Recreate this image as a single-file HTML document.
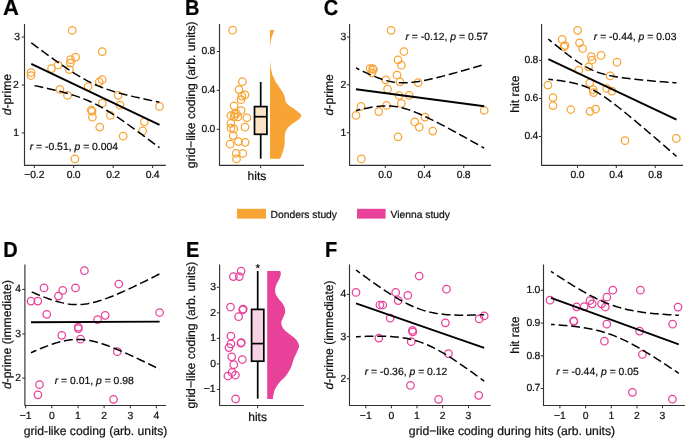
<!DOCTYPE html>
<html><head><meta charset="utf-8"><style>
html,body{margin:0;padding:0;background:#fff;width:685px;height:438px;overflow:hidden}
svg{display:block;font-family:"Liberation Sans", sans-serif;will-change:transform;text-rendering:geometricPrecision}
text{stroke:#111;stroke-width:0.22px}
</style></head><body>
<svg width="685" height="438" viewBox="0 0 685 438">
<rect width="685" height="438" fill="#fff"/>
<text x="3.0" y="14.7" font-size="20" text-anchor="start" font-weight="bold" font-style="normal" fill="#000" transform="translate(3.00 14.70) scale(1.1 1.12) translate(-3.00 -14.70)">A</text>
<path d="M24.5 24.0 V165.4 H165.8" fill="none" stroke="#333333" stroke-width="1.15" stroke-linejoin="round"/>
<line x1="21.8" y1="37.0" x2="24.5" y2="37.0" stroke="#333333" stroke-width="1.05"/>
<text x="20.1" y="39.9" font-size="10.4" text-anchor="end" font-weight="normal" font-style="normal" fill="#111">3</text>
<line x1="21.8" y1="85.0" x2="24.5" y2="85.0" stroke="#333333" stroke-width="1.05"/>
<text x="18.8" y="87.9" font-size="10.4" text-anchor="end" font-weight="normal" font-style="normal" fill="#111">2</text>
<line x1="21.8" y1="132.9" x2="24.5" y2="132.9" stroke="#333333" stroke-width="1.05"/>
<text x="19.1" y="135.8" font-size="10.4" text-anchor="end" font-weight="normal" font-style="normal" fill="#111">1</text>
<line x1="34.4" y1="165.4" x2="34.4" y2="168.1" stroke="#333333" stroke-width="1.05"/>
<text x="34.4" y="177.6" font-size="10.4" text-anchor="middle" font-weight="normal" font-style="normal" fill="#111">−0.2</text>
<line x1="73.7" y1="165.4" x2="73.7" y2="168.1" stroke="#333333" stroke-width="1.05"/>
<text x="73.7" y="177.6" font-size="10.4" text-anchor="middle" font-weight="normal" font-style="normal" fill="#111">0<tspan dx="-0.3">.</tspan><tspan dx="-0.3">0</tspan></text>
<line x1="113.2" y1="165.4" x2="113.2" y2="168.1" stroke="#333333" stroke-width="1.05"/>
<text x="113.2" y="177.6" font-size="10.4" text-anchor="middle" font-weight="normal" font-style="normal" fill="#111">0<tspan dx="-0.3">.</tspan><tspan dx="-0.3">2</tspan></text>
<line x1="152.6" y1="165.4" x2="152.6" y2="168.1" stroke="#333333" stroke-width="1.05"/>
<text x="152.6" y="177.6" font-size="10.4" text-anchor="middle" font-weight="normal" font-style="normal" fill="#111">0<tspan dx="-0.3">.</tspan><tspan dx="-0.3">4</tspan></text>
<circle cx="72.2" cy="30.4" r="3.75" fill="none" stroke="#F8A435" stroke-width="1.25"/>
<circle cx="102.2" cy="51.6" r="3.75" fill="none" stroke="#F8A435" stroke-width="1.25"/>
<circle cx="75.6" cy="57.1" r="3.75" fill="none" stroke="#F8A435" stroke-width="1.25"/>
<circle cx="70.6" cy="59.7" r="3.75" fill="none" stroke="#F8A435" stroke-width="1.25"/>
<circle cx="70.4" cy="63.0" r="3.75" fill="none" stroke="#F8A435" stroke-width="1.25"/>
<circle cx="69.4" cy="69.6" r="3.75" fill="none" stroke="#F8A435" stroke-width="1.25"/>
<circle cx="58.1" cy="65.0" r="3.75" fill="none" stroke="#F8A435" stroke-width="1.25"/>
<circle cx="51.5" cy="68.6" r="3.75" fill="none" stroke="#F8A435" stroke-width="1.25"/>
<circle cx="31.0" cy="72.5" r="3.75" fill="none" stroke="#F8A435" stroke-width="1.25"/>
<circle cx="31.0" cy="75.5" r="3.75" fill="none" stroke="#F8A435" stroke-width="1.25"/>
<circle cx="88.1" cy="86.6" r="3.75" fill="none" stroke="#F8A435" stroke-width="1.25"/>
<circle cx="99.3" cy="81.8" r="3.75" fill="none" stroke="#F8A435" stroke-width="1.25"/>
<circle cx="102.1" cy="79.7" r="3.75" fill="none" stroke="#F8A435" stroke-width="1.25"/>
<circle cx="59.9" cy="89.3" r="3.75" fill="none" stroke="#F8A435" stroke-width="1.25"/>
<circle cx="67.5" cy="95.4" r="3.75" fill="none" stroke="#F8A435" stroke-width="1.25"/>
<circle cx="118.1" cy="95.3" r="3.75" fill="none" stroke="#F8A435" stroke-width="1.25"/>
<circle cx="159.5" cy="106.4" r="3.75" fill="none" stroke="#F8A435" stroke-width="1.25"/>
<circle cx="102.3" cy="103.2" r="3.75" fill="none" stroke="#F8A435" stroke-width="1.25"/>
<circle cx="120.0" cy="105.2" r="3.75" fill="none" stroke="#F8A435" stroke-width="1.25"/>
<circle cx="91.3" cy="110.1" r="3.75" fill="none" stroke="#F8A435" stroke-width="1.25"/>
<circle cx="92.0" cy="111.4" r="3.75" fill="none" stroke="#F8A435" stroke-width="1.25"/>
<circle cx="92.4" cy="117.2" r="3.75" fill="none" stroke="#F8A435" stroke-width="1.25"/>
<circle cx="110.4" cy="115.4" r="3.75" fill="none" stroke="#F8A435" stroke-width="1.25"/>
<circle cx="99.7" cy="127.1" r="3.75" fill="none" stroke="#F8A435" stroke-width="1.25"/>
<circle cx="144.3" cy="121.8" r="3.75" fill="none" stroke="#F8A435" stroke-width="1.25"/>
<circle cx="142.7" cy="130.9" r="3.75" fill="none" stroke="#F8A435" stroke-width="1.25"/>
<circle cx="123.2" cy="136.2" r="3.75" fill="none" stroke="#F8A435" stroke-width="1.25"/>
<circle cx="74.9" cy="158.9" r="3.75" fill="none" stroke="#F8A435" stroke-width="1.25"/>
<line x1="31.3" y1="63.9" x2="159.5" y2="124.9" stroke="#000" stroke-width="1.9"/>
<polyline points="31.30,42.80 33.47,44.43 35.65,46.05 37.82,47.67 39.99,49.28 42.16,50.88 44.34,52.48 46.51,54.07 48.68,55.65 50.86,57.22 53.03,58.78 55.20,60.33 57.37,61.87 59.55,63.40 61.72,64.90 63.89,66.40 66.07,67.87 68.24,69.32 70.41,70.75 72.58,72.16 74.76,73.53 76.93,74.88 79.10,76.19 81.28,77.47 83.45,78.70 85.62,79.90 87.79,81.05 89.97,82.16 92.14,83.22 94.31,84.24 96.49,85.21 98.66,86.13 100.83,87.01 103.01,87.85 105.18,88.65 107.35,89.41 109.52,90.14 111.70,90.84 113.87,91.51 116.04,92.15 118.22,92.77 120.39,93.37 122.56,93.95 124.73,94.51 126.91,95.06 129.08,95.59 131.25,96.11 133.43,96.62 135.60,97.11 137.77,97.60 139.94,98.08 142.12,98.55 144.29,99.02 146.46,99.48 148.64,99.93 150.81,100.38 152.98,100.82 155.15,101.26 157.33,101.69 159.50,102.12" fill="none" stroke="#000" stroke-width="1.5" stroke-dasharray="8.9 3.8" stroke-dashoffset="0.11"/>
<polyline points="31.30,85.00 33.47,85.44 35.65,85.89 37.82,86.34 39.99,86.79 42.16,87.26 44.34,87.73 46.51,88.21 48.68,88.69 50.86,89.19 53.03,89.70 55.20,90.21 57.37,90.74 59.55,91.29 61.72,91.84 63.89,92.42 66.07,93.01 68.24,93.63 70.41,94.27 72.58,94.93 74.76,95.62 76.93,96.35 79.10,97.10 81.28,97.89 83.45,98.72 85.62,99.60 87.79,100.51 89.97,101.47 92.14,102.48 94.31,103.53 96.49,104.63 98.66,105.77 100.83,106.96 103.01,108.19 105.18,109.46 107.35,110.76 109.52,112.10 111.70,113.47 113.87,114.87 116.04,116.29 118.22,117.74 120.39,119.21 122.56,120.70 124.73,122.21 126.91,123.73 129.08,125.26 131.25,126.81 133.43,128.37 135.60,129.94 137.77,131.52 139.94,133.11 142.12,134.70 144.29,136.31 146.46,137.92 148.64,139.53 150.81,141.15 152.98,142.78 155.15,144.41 157.33,146.04 159.50,147.68" fill="none" stroke="#000" stroke-width="1.5" stroke-dasharray="8.9 3.8" stroke-dashoffset="9.44"/>
<text x="29.7" y="149.8" font-size="10.4" fill="#111"><tspan font-style="italic">r</tspan> = -0.51, <tspan font-style="italic">p</tspan> = 0.004</text>
<text x="0" y="0" font-size="12.2" fill="#111" text-anchor="middle" transform="translate(10.6 94.6) rotate(-90)"><tspan font-style="italic">d</tspan>-prime</text>
<text x="185.0" y="14.6" font-size="20" text-anchor="start" font-weight="bold" font-style="normal" fill="#000" transform="translate(185.00 14.60) scale(1 1.09) translate(-185.00 -14.60)">B</text>
<path d="M219.5 24.0 V165.4 H303.9" fill="none" stroke="#333333" stroke-width="1.15" stroke-linejoin="round"/>
<line x1="216.7" y1="51.5" x2="219.4" y2="51.5" stroke="#333333" stroke-width="1.05"/>
<text x="215.3" y="54.4" font-size="10.4" text-anchor="end" font-weight="normal" font-style="normal" fill="#111">0<tspan dx="-0.3">.</tspan><tspan dx="-0.3">8</tspan></text>
<line x1="216.7" y1="90.4" x2="219.4" y2="90.4" stroke="#333333" stroke-width="1.05"/>
<text x="215.3" y="93.3" font-size="10.4" text-anchor="end" font-weight="normal" font-style="normal" fill="#111">0<tspan dx="-0.3">.</tspan><tspan dx="-0.3">4</tspan></text>
<line x1="216.7" y1="129.3" x2="219.4" y2="129.3" stroke="#333333" stroke-width="1.05"/>
<text x="215.3" y="132.2" font-size="10.4" text-anchor="end" font-weight="normal" font-style="normal" fill="#111">0<tspan dx="-0.3">.</tspan><tspan dx="-0.3">0</tspan></text>
<line x1="260.6" y1="165.4" x2="260.6" y2="168.1" stroke="#333333" stroke-width="1.05"/>
<text x="256.9" y="179.6" font-size="12" text-anchor="middle" font-weight="normal" font-style="normal" fill="#111">hits</text>
<circle cx="232.6" cy="30.2" r="3.75" fill="none" stroke="#F8A435" stroke-width="1.25"/>
<circle cx="242.4" cy="81.7" r="3.75" fill="none" stroke="#F8A435" stroke-width="1.25"/>
<circle cx="239.0" cy="89.6" r="3.75" fill="none" stroke="#F8A435" stroke-width="1.25"/>
<circle cx="244.9" cy="94.9" r="3.75" fill="none" stroke="#F8A435" stroke-width="1.25"/>
<circle cx="241.8" cy="96.1" r="3.75" fill="none" stroke="#F8A435" stroke-width="1.25"/>
<circle cx="241.0" cy="99.7" r="3.75" fill="none" stroke="#F8A435" stroke-width="1.25"/>
<circle cx="234.1" cy="105.8" r="3.75" fill="none" stroke="#F8A435" stroke-width="1.25"/>
<circle cx="241.1" cy="110.5" r="3.75" fill="none" stroke="#F8A435" stroke-width="1.25"/>
<circle cx="230.9" cy="115.5" r="3.75" fill="none" stroke="#F8A435" stroke-width="1.25"/>
<circle cx="234.4" cy="114.0" r="3.75" fill="none" stroke="#F8A435" stroke-width="1.25"/>
<circle cx="236.5" cy="113.5" r="3.75" fill="none" stroke="#F8A435" stroke-width="1.25"/>
<circle cx="237.8" cy="116.9" r="3.75" fill="none" stroke="#F8A435" stroke-width="1.25"/>
<circle cx="234.3" cy="116.5" r="3.75" fill="none" stroke="#F8A435" stroke-width="1.25"/>
<circle cx="246.9" cy="117.8" r="3.75" fill="none" stroke="#F8A435" stroke-width="1.25"/>
<circle cx="230.9" cy="123.4" r="3.75" fill="none" stroke="#F8A435" stroke-width="1.25"/>
<circle cx="231.0" cy="128.2" r="3.75" fill="none" stroke="#F8A435" stroke-width="1.25"/>
<circle cx="233.8" cy="128.9" r="3.75" fill="none" stroke="#F8A435" stroke-width="1.25"/>
<circle cx="245.0" cy="127.2" r="3.75" fill="none" stroke="#F8A435" stroke-width="1.25"/>
<circle cx="233.2" cy="135.6" r="3.75" fill="none" stroke="#F8A435" stroke-width="1.25"/>
<circle cx="230.1" cy="144.2" r="3.75" fill="none" stroke="#F8A435" stroke-width="1.25"/>
<circle cx="238.5" cy="141.6" r="3.75" fill="none" stroke="#F8A435" stroke-width="1.25"/>
<circle cx="245.2" cy="142.3" r="3.75" fill="none" stroke="#F8A435" stroke-width="1.25"/>
<circle cx="236.2" cy="153.4" r="3.75" fill="none" stroke="#F8A435" stroke-width="1.25"/>
<circle cx="242.8" cy="153.4" r="3.75" fill="none" stroke="#F8A435" stroke-width="1.25"/>
<circle cx="236.5" cy="158.9" r="3.75" fill="none" stroke="#F8A435" stroke-width="1.25"/>
<line x1="260.7" y1="82.0" x2="260.7" y2="106.6" stroke="#000" stroke-width="1.7"/>
<line x1="260.7" y1="134.3" x2="260.7" y2="158.7" stroke="#000" stroke-width="1.7"/>
<rect x="254.5" y="106.6" width="12.4" height="27.7" fill="#FDE3C5" stroke="#000" stroke-width="1.7"/>
<line x1="254.5" y1="116.7" x2="266.9" y2="116.7" stroke="#000" stroke-width="1.7"/>
<path d="M270.00 30.10 L274.30 30.10 C274.03 30.85 273.20 33.17 272.70 34.60 C272.20 36.03 271.67 37.33 271.30 38.70 C270.93 40.07 270.70 41.42 270.50 42.80 C270.30 44.18 270.18 45.40 270.10 47.00 C270.02 48.60 270.00 50.23 270.00 52.40 C270.00 54.57 270.02 57.72 270.10 60.00 C270.18 62.28 270.25 64.17 270.50 66.10 C270.75 68.03 271.28 70.12 271.60 71.60 C271.92 73.08 272.07 74.08 272.40 75.00 C272.73 75.92 273.10 76.07 273.60 77.10 C274.10 78.13 274.43 79.50 275.40 81.20 C276.37 82.90 278.08 85.25 279.40 87.30 C280.72 89.35 282.38 91.78 283.30 93.50 C284.22 95.22 284.50 96.23 284.90 97.60 C285.30 98.97 284.95 100.33 285.70 101.70 C286.45 103.07 287.75 104.43 289.40 105.80 C291.05 107.17 293.73 108.53 295.60 109.90 C297.47 111.27 299.65 112.97 300.60 114.00 C301.55 115.03 301.58 115.23 301.30 116.10 C301.02 116.97 300.50 117.83 298.90 119.20 C297.30 120.57 293.73 122.60 291.70 124.30 C289.67 126.00 287.83 127.68 286.70 129.40 C285.57 131.12 285.22 132.72 284.90 134.60 C284.58 136.48 284.93 138.65 284.80 140.70 C284.67 142.75 284.50 144.83 284.10 146.90 C283.70 148.97 282.95 151.38 282.40 153.10 C281.85 154.82 281.20 156.25 280.80 157.20 C280.40 158.15 280.13 158.53 280.00 158.80 L270.00 158.80 Z" fill="#F8A435" stroke="none"/>
<text x="0" y="0" font-size="12.2" fill="#111" text-anchor="middle" transform="translate(194.8 94.8) rotate(-90)">grid−like coding (arb. units)</text>
<rect x="237.0" y="208.8" width="29" height="9.8" fill="#F8A435"/>
<text x="270.6" y="218.0" font-size="10.3" text-anchor="start" font-weight="normal" font-style="normal" fill="#111">Donders study</text>
<rect x="357.0" y="208.8" width="28.6" height="9.8" fill="#E8419A"/>
<text x="390.6" y="218.0" font-size="10.3" text-anchor="start" font-weight="normal" font-style="normal" fill="#111">Vienna study</text>
<text x="323.8" y="14.6" font-size="20" text-anchor="start" font-weight="bold" font-style="normal" fill="#000" transform="translate(323.80 14.60) scale(1 1.09) translate(-323.80 -14.60)">C</text>
<path d="M349.6 24.0 V165.4 H491.0" fill="none" stroke="#333333" stroke-width="1.15" stroke-linejoin="round"/>
<line x1="346.9" y1="37.0" x2="349.6" y2="37.0" stroke="#333333" stroke-width="1.05"/>
<text x="346.2" y="39.9" font-size="10.4" text-anchor="end" font-weight="normal" font-style="normal" fill="#111">3</text>
<line x1="346.9" y1="84.8" x2="349.6" y2="84.8" stroke="#333333" stroke-width="1.05"/>
<text x="346.2" y="87.8" font-size="10.4" text-anchor="end" font-weight="normal" font-style="normal" fill="#111">2</text>
<line x1="346.9" y1="132.7" x2="349.6" y2="132.7" stroke="#333333" stroke-width="1.05"/>
<text x="346.2" y="135.6" font-size="10.4" text-anchor="end" font-weight="normal" font-style="normal" fill="#111">1</text>
<line x1="385.3" y1="165.4" x2="385.3" y2="168.1" stroke="#333333" stroke-width="1.05"/>
<text x="385.3" y="177.6" font-size="10.4" text-anchor="middle" font-weight="normal" font-style="normal" fill="#111">0<tspan dx="-0.3">.</tspan><tspan dx="-0.3">0</tspan></text>
<line x1="424.4" y1="165.4" x2="424.4" y2="168.1" stroke="#333333" stroke-width="1.05"/>
<text x="424.4" y="177.6" font-size="10.4" text-anchor="middle" font-weight="normal" font-style="normal" fill="#111">0<tspan dx="-0.3">.</tspan><tspan dx="-0.3">4</tspan></text>
<line x1="463.7" y1="165.4" x2="463.7" y2="168.1" stroke="#333333" stroke-width="1.05"/>
<text x="463.7" y="177.6" font-size="10.4" text-anchor="middle" font-weight="normal" font-style="normal" fill="#111">0<tspan dx="-0.3">.</tspan><tspan dx="-0.3">8</tspan></text>
<circle cx="391.1" cy="30.3" r="3.75" fill="none" stroke="#F8A435" stroke-width="1.25"/>
<circle cx="403.9" cy="51.5" r="3.75" fill="none" stroke="#F8A435" stroke-width="1.25"/>
<circle cx="398.0" cy="59.8" r="3.75" fill="none" stroke="#F8A435" stroke-width="1.25"/>
<circle cx="401.4" cy="65.2" r="3.75" fill="none" stroke="#F8A435" stroke-width="1.25"/>
<circle cx="370.1" cy="68.5" r="3.75" fill="none" stroke="#F8A435" stroke-width="1.25"/>
<circle cx="372.6" cy="68.7" r="3.75" fill="none" stroke="#F8A435" stroke-width="1.25"/>
<circle cx="373.4" cy="69.5" r="3.75" fill="none" stroke="#F8A435" stroke-width="1.25"/>
<circle cx="371.9" cy="73.0" r="3.75" fill="none" stroke="#F8A435" stroke-width="1.25"/>
<circle cx="385.7" cy="79.8" r="3.75" fill="none" stroke="#F8A435" stroke-width="1.25"/>
<circle cx="397.0" cy="75.0" r="3.75" fill="none" stroke="#F8A435" stroke-width="1.25"/>
<circle cx="400.0" cy="81.8" r="3.75" fill="none" stroke="#F8A435" stroke-width="1.25"/>
<circle cx="418.1" cy="82.6" r="3.75" fill="none" stroke="#F8A435" stroke-width="1.25"/>
<circle cx="387.6" cy="89.2" r="3.75" fill="none" stroke="#F8A435" stroke-width="1.25"/>
<circle cx="399.1" cy="95.5" r="3.75" fill="none" stroke="#F8A435" stroke-width="1.25"/>
<circle cx="409.2" cy="95.4" r="3.75" fill="none" stroke="#F8A435" stroke-width="1.25"/>
<circle cx="361.0" cy="106.4" r="3.75" fill="none" stroke="#F8A435" stroke-width="1.25"/>
<circle cx="386.6" cy="105.4" r="3.75" fill="none" stroke="#F8A435" stroke-width="1.25"/>
<circle cx="401.3" cy="103.4" r="3.75" fill="none" stroke="#F8A435" stroke-width="1.25"/>
<circle cx="378.7" cy="111.6" r="3.75" fill="none" stroke="#F8A435" stroke-width="1.25"/>
<circle cx="356.0" cy="115.4" r="3.75" fill="none" stroke="#F8A435" stroke-width="1.25"/>
<circle cx="425.0" cy="117.1" r="3.75" fill="none" stroke="#F8A435" stroke-width="1.25"/>
<circle cx="414.7" cy="121.9" r="3.75" fill="none" stroke="#F8A435" stroke-width="1.25"/>
<circle cx="419.3" cy="127.2" r="3.75" fill="none" stroke="#F8A435" stroke-width="1.25"/>
<circle cx="432.8" cy="131.1" r="3.75" fill="none" stroke="#F8A435" stroke-width="1.25"/>
<circle cx="398.0" cy="136.8" r="3.75" fill="none" stroke="#F8A435" stroke-width="1.25"/>
<circle cx="361.3" cy="158.9" r="3.75" fill="none" stroke="#F8A435" stroke-width="1.25"/>
<circle cx="484.2" cy="110.4" r="3.75" fill="none" stroke="#F8A435" stroke-width="1.25"/>
<line x1="356.0" y1="89.2" x2="484.2" y2="106.3" stroke="#000" stroke-width="1.9"/>
<polyline points="356.00,67.92 358.17,69.00 360.35,70.07 362.52,71.12 364.69,72.15 366.86,73.16 369.04,74.14 371.21,75.10 373.38,76.01 375.56,76.90 377.73,77.74 379.90,78.53 382.07,79.27 384.25,79.95 386.42,80.57 388.59,81.13 390.77,81.61 392.94,82.01 395.11,82.34 397.28,82.58 399.46,82.75 401.63,82.85 403.80,82.87 405.98,82.82 408.15,82.72 410.32,82.55 412.49,82.33 414.67,82.07 416.84,81.76 419.01,81.42 421.19,81.05 423.36,80.64 425.53,80.21 427.71,79.76 429.88,79.29 432.05,78.80 434.22,78.29 436.40,77.77 438.57,77.23 440.74,76.69 442.92,76.13 445.09,75.57 447.26,74.99 449.43,74.41 451.61,73.82 453.78,73.23 455.95,72.63 458.13,72.03 460.30,71.42 462.47,70.80 464.64,70.18 466.82,69.56 468.99,68.94 471.16,68.31 473.34,67.68 475.51,67.04 477.68,66.41 479.85,65.77 482.03,65.12 484.20,64.48" fill="none" stroke="#000" stroke-width="1.5" stroke-dasharray="8.9 3.8" stroke-dashoffset="5.22"/>
<polyline points="356.00,110.48 358.17,109.98 360.35,109.49 362.52,109.02 364.69,108.56 366.86,108.14 369.04,107.73 371.21,107.36 373.38,107.02 375.56,106.72 377.73,106.46 379.90,106.25 382.07,106.09 384.25,105.98 386.42,105.94 388.59,105.97 390.77,106.07 392.94,106.24 395.11,106.50 397.28,106.83 399.46,107.24 401.63,107.73 403.80,108.28 405.98,108.91 408.15,109.60 410.32,110.34 412.49,111.14 414.67,111.98 416.84,112.87 419.01,113.79 421.19,114.74 423.36,115.73 425.53,116.74 427.71,117.77 429.88,118.82 432.05,119.89 434.22,120.98 436.40,122.08 438.57,123.19 440.74,124.32 442.92,125.45 445.09,126.60 447.26,127.75 449.43,128.91 451.61,130.08 453.78,131.25 455.95,132.43 458.13,133.62 460.30,134.81 462.47,136.00 464.64,137.20 466.82,138.40 468.99,139.61 471.16,140.81 473.34,142.03 475.51,143.24 477.68,144.46 479.85,145.67 482.03,146.90 484.20,148.12" fill="none" stroke="#000" stroke-width="1.5" stroke-dasharray="8.9 3.8" stroke-dashoffset="4.6"/>
<text x="405.5" y="40.3" font-size="10.4" fill="#111"><tspan font-style="italic">r</tspan> = -0.12, <tspan font-style="italic">p</tspan> = 0.57</text>
<text x="0" y="0" font-size="12.2" fill="#111" text-anchor="middle" transform="translate(333.1 94.8) rotate(-90)"><tspan font-style="italic">d</tspan>-prime</text>
<path d="M541.6 24.0 V165.4 H683.0" fill="none" stroke="#333333" stroke-width="1.15" stroke-linejoin="round"/>
<line x1="538.9" y1="60.4" x2="541.6" y2="60.4" stroke="#333333" stroke-width="1.05"/>
<text x="538.3" y="63.3" font-size="10.4" text-anchor="end" font-weight="normal" font-style="normal" fill="#111">0<tspan dx="-0.3">.</tspan><tspan dx="-0.3">8</tspan></text>
<line x1="538.9" y1="98.5" x2="541.6" y2="98.5" stroke="#333333" stroke-width="1.05"/>
<text x="538.3" y="101.4" font-size="10.4" text-anchor="end" font-weight="normal" font-style="normal" fill="#111">0<tspan dx="-0.3">.</tspan><tspan dx="-0.3">6</tspan></text>
<line x1="538.9" y1="136.5" x2="541.6" y2="136.5" stroke="#333333" stroke-width="1.05"/>
<text x="538.3" y="139.4" font-size="10.4" text-anchor="end" font-weight="normal" font-style="normal" fill="#111">0<tspan dx="-0.3">.</tspan><tspan dx="-0.3">4</tspan></text>
<line x1="577.5" y1="165.4" x2="577.5" y2="168.1" stroke="#333333" stroke-width="1.05"/>
<text x="577.5" y="177.6" font-size="10.4" text-anchor="middle" font-weight="normal" font-style="normal" fill="#111">0<tspan dx="-0.3">.</tspan><tspan dx="-0.3">0</tspan></text>
<line x1="616.3" y1="165.4" x2="616.3" y2="168.1" stroke="#333333" stroke-width="1.05"/>
<text x="616.3" y="177.6" font-size="10.4" text-anchor="middle" font-weight="normal" font-style="normal" fill="#111">0<tspan dx="-0.3">.</tspan><tspan dx="-0.3">4</tspan></text>
<line x1="655.3" y1="165.4" x2="655.3" y2="168.1" stroke="#333333" stroke-width="1.05"/>
<text x="655.3" y="177.6" font-size="10.4" text-anchor="middle" font-weight="normal" font-style="normal" fill="#111">0<tspan dx="-0.3">.</tspan><tspan dx="-0.3">8</tspan></text>
<circle cx="577.6" cy="30.3" r="3.75" fill="none" stroke="#F8A435" stroke-width="1.25"/>
<circle cx="562.1" cy="39.4" r="3.75" fill="none" stroke="#F8A435" stroke-width="1.25"/>
<circle cx="565.1" cy="45.6" r="3.75" fill="none" stroke="#F8A435" stroke-width="1.25"/>
<circle cx="563.9" cy="46.9" r="3.75" fill="none" stroke="#F8A435" stroke-width="1.25"/>
<circle cx="579.5" cy="42.8" r="3.75" fill="none" stroke="#F8A435" stroke-width="1.25"/>
<circle cx="582.6" cy="48.5" r="3.75" fill="none" stroke="#F8A435" stroke-width="1.25"/>
<circle cx="591.3" cy="56.5" r="3.75" fill="none" stroke="#F8A435" stroke-width="1.25"/>
<circle cx="592.0" cy="60.0" r="3.75" fill="none" stroke="#F8A435" stroke-width="1.25"/>
<circle cx="601.0" cy="55.4" r="3.75" fill="none" stroke="#F8A435" stroke-width="1.25"/>
<circle cx="617.0" cy="62.2" r="3.75" fill="none" stroke="#F8A435" stroke-width="1.25"/>
<circle cx="588.6" cy="66.8" r="3.75" fill="none" stroke="#F8A435" stroke-width="1.25"/>
<circle cx="578.8" cy="70.2" r="3.75" fill="none" stroke="#F8A435" stroke-width="1.25"/>
<circle cx="547.9" cy="85.1" r="3.75" fill="none" stroke="#F8A435" stroke-width="1.25"/>
<circle cx="589.7" cy="82.8" r="3.75" fill="none" stroke="#F8A435" stroke-width="1.25"/>
<circle cx="593.2" cy="89.6" r="3.75" fill="none" stroke="#F8A435" stroke-width="1.25"/>
<circle cx="593.6" cy="92.6" r="3.75" fill="none" stroke="#F8A435" stroke-width="1.25"/>
<circle cx="610.1" cy="75.9" r="3.75" fill="none" stroke="#F8A435" stroke-width="1.25"/>
<circle cx="606.7" cy="88.5" r="3.75" fill="none" stroke="#F8A435" stroke-width="1.25"/>
<circle cx="611.9" cy="91.2" r="3.75" fill="none" stroke="#F8A435" stroke-width="1.25"/>
<circle cx="553.0" cy="97.6" r="3.75" fill="none" stroke="#F8A435" stroke-width="1.25"/>
<circle cx="553.0" cy="105.6" r="3.75" fill="none" stroke="#F8A435" stroke-width="1.25"/>
<circle cx="570.8" cy="109.5" r="3.75" fill="none" stroke="#F8A435" stroke-width="1.25"/>
<circle cx="590.0" cy="111.3" r="3.75" fill="none" stroke="#F8A435" stroke-width="1.25"/>
<circle cx="595.6" cy="109.0" r="3.75" fill="none" stroke="#F8A435" stroke-width="1.25"/>
<circle cx="625.0" cy="140.7" r="3.75" fill="none" stroke="#F8A435" stroke-width="1.25"/>
<circle cx="676.3" cy="138.4" r="3.75" fill="none" stroke="#F8A435" stroke-width="1.25"/>
<line x1="548.3" y1="59.1" x2="676.5" y2="119.6" stroke="#000" stroke-width="1.9"/>
<polyline points="548.30,39.03 550.47,40.84 552.65,42.63 554.82,44.41 556.99,46.18 559.16,47.93 561.34,49.66 563.51,51.38 565.68,53.07 567.86,54.73 570.03,56.37 572.20,57.97 574.37,59.52 576.55,61.04 578.72,62.50 580.89,63.90 583.07,65.23 585.24,66.50 587.41,67.69 589.58,68.80 591.76,69.83 593.93,70.77 596.10,71.64 598.28,72.43 600.45,73.14 602.62,73.80 604.79,74.39 606.97,74.93 609.14,75.43 611.31,75.88 613.49,76.30 615.66,76.69 617.83,77.05 620.01,77.39 622.18,77.71 624.35,78.01 626.52,78.29 628.70,78.56 630.87,78.82 633.04,79.07 635.22,79.30 637.39,79.53 639.56,79.75 641.73,79.97 643.91,80.18 646.08,80.38 648.25,80.58 650.43,80.77 652.60,80.96 654.77,81.14 656.94,81.32 659.12,81.50 661.29,81.68 663.46,81.85 665.64,82.02 667.81,82.19 669.98,82.36 672.15,82.52 674.33,82.68 676.50,82.85" fill="none" stroke="#000" stroke-width="1.5" stroke-dasharray="8.9 3.8" stroke-dashoffset="4.41"/>
<polyline points="548.30,79.17 550.47,79.42 552.65,79.67 554.82,79.94 556.99,80.23 559.16,80.52 561.34,80.84 563.51,81.18 565.68,81.54 567.86,81.92 570.03,82.34 572.20,82.79 574.37,83.29 576.55,83.83 578.72,84.42 580.89,85.07 583.07,85.78 585.24,86.57 587.41,87.43 589.58,88.37 591.76,89.39 593.93,90.50 596.10,91.68 598.28,92.94 600.45,94.28 602.62,95.67 604.79,97.13 606.97,98.64 609.14,100.19 611.31,101.79 613.49,103.42 615.66,105.09 617.83,106.77 620.01,108.49 622.18,110.22 624.35,111.97 626.52,113.74 628.70,115.52 630.87,117.31 633.04,119.12 635.22,120.93 637.39,122.75 639.56,124.58 641.73,126.42 643.91,128.26 646.08,130.11 648.25,131.96 650.43,133.82 652.60,135.68 654.77,137.55 656.94,139.42 659.12,141.29 661.29,143.16 663.46,145.04 665.64,146.92 667.81,148.81 669.98,150.69 672.15,152.58 674.33,154.46 676.50,156.35" fill="none" stroke="#000" stroke-width="1.5" stroke-dasharray="8.9 3.8" stroke-dashoffset="4.21"/>
<text x="593.8" y="40.4" font-size="10.4" fill="#111"><tspan font-style="italic">r</tspan> = -0.44, <tspan font-style="italic">p</tspan> = 0.03</text>
<text x="0" y="0" font-size="12.2" fill="#111" text-anchor="middle" transform="translate(518.6 94.2) rotate(-90)">hit rate</text>
<text x="3.2" y="256.6" font-size="20" text-anchor="start" font-weight="bold" font-style="normal" fill="#000" transform="translate(3.20 256.60) scale(1 1.09) translate(-3.20 -256.60)">D</text>
<path d="M24.9 264.4 V405.5 H166.1" fill="none" stroke="#333333" stroke-width="1.15" stroke-linejoin="round"/>
<line x1="22.2" y1="289.4" x2="24.9" y2="289.4" stroke="#333333" stroke-width="1.05"/>
<text x="21.1" y="292.3" font-size="10.4" text-anchor="end" font-weight="normal" font-style="normal" fill="#111">4</text>
<line x1="22.2" y1="334.0" x2="24.9" y2="334.0" stroke="#333333" stroke-width="1.05"/>
<text x="21.1" y="336.9" font-size="10.4" text-anchor="end" font-weight="normal" font-style="normal" fill="#111">3</text>
<line x1="22.2" y1="378.1" x2="24.9" y2="378.1" stroke="#333333" stroke-width="1.05"/>
<text x="21.1" y="381.0" font-size="10.4" text-anchor="end" font-weight="normal" font-style="normal" fill="#111">2</text>
<line x1="25.6" y1="405.5" x2="25.6" y2="408.2" stroke="#333333" stroke-width="1.05"/>
<text x="25.6" y="419.0" font-size="10.4" text-anchor="middle" font-weight="normal" font-style="normal" fill="#111">−1</text>
<line x1="51.8" y1="405.5" x2="51.8" y2="408.2" stroke="#333333" stroke-width="1.05"/>
<text x="51.8" y="419.0" font-size="10.4" text-anchor="middle" font-weight="normal" font-style="normal" fill="#111">0</text>
<line x1="78.0" y1="405.5" x2="78.0" y2="408.2" stroke="#333333" stroke-width="1.05"/>
<text x="78.0" y="419.0" font-size="10.4" text-anchor="middle" font-weight="normal" font-style="normal" fill="#111">1</text>
<line x1="104.1" y1="405.5" x2="104.1" y2="408.2" stroke="#333333" stroke-width="1.05"/>
<text x="104.1" y="419.0" font-size="10.4" text-anchor="middle" font-weight="normal" font-style="normal" fill="#111">2</text>
<line x1="130.3" y1="405.5" x2="130.3" y2="408.2" stroke="#333333" stroke-width="1.05"/>
<text x="130.3" y="419.0" font-size="10.4" text-anchor="middle" font-weight="normal" font-style="normal" fill="#111">3</text>
<line x1="156.4" y1="405.5" x2="156.4" y2="408.2" stroke="#333333" stroke-width="1.05"/>
<text x="156.4" y="419.0" font-size="10.4" text-anchor="middle" font-weight="normal" font-style="normal" fill="#111">4</text>
<circle cx="84.4" cy="270.7" r="3.75" fill="none" stroke="#E8419A" stroke-width="1.25"/>
<circle cx="44.0" cy="287.9" r="3.75" fill="none" stroke="#E8419A" stroke-width="1.25"/>
<circle cx="62.7" cy="290.4" r="3.75" fill="none" stroke="#E8419A" stroke-width="1.25"/>
<circle cx="58.4" cy="296.1" r="3.75" fill="none" stroke="#E8419A" stroke-width="1.25"/>
<circle cx="75.5" cy="287.9" r="3.75" fill="none" stroke="#E8419A" stroke-width="1.25"/>
<circle cx="118.8" cy="284.0" r="3.75" fill="none" stroke="#E8419A" stroke-width="1.25"/>
<circle cx="31.0" cy="301.1" r="3.75" fill="none" stroke="#E8419A" stroke-width="1.25"/>
<circle cx="37.8" cy="301.1" r="3.75" fill="none" stroke="#E8419A" stroke-width="1.25"/>
<circle cx="46.7" cy="314.3" r="3.75" fill="none" stroke="#E8419A" stroke-width="1.25"/>
<circle cx="97.6" cy="319.6" r="3.75" fill="none" stroke="#E8419A" stroke-width="1.25"/>
<circle cx="105.2" cy="315.3" r="3.75" fill="none" stroke="#E8419A" stroke-width="1.25"/>
<circle cx="78.2" cy="327.2" r="3.75" fill="none" stroke="#E8419A" stroke-width="1.25"/>
<circle cx="78.3" cy="328.6" r="3.75" fill="none" stroke="#E8419A" stroke-width="1.25"/>
<circle cx="61.8" cy="335.3" r="3.75" fill="none" stroke="#E8419A" stroke-width="1.25"/>
<circle cx="80.5" cy="339.2" r="3.75" fill="none" stroke="#E8419A" stroke-width="1.25"/>
<circle cx="117.3" cy="351.7" r="3.75" fill="none" stroke="#E8419A" stroke-width="1.25"/>
<circle cx="159.6" cy="312.5" r="3.75" fill="none" stroke="#E8419A" stroke-width="1.25"/>
<circle cx="39.5" cy="384.7" r="3.75" fill="none" stroke="#E8419A" stroke-width="1.25"/>
<circle cx="37.9" cy="394.8" r="3.75" fill="none" stroke="#E8419A" stroke-width="1.25"/>
<circle cx="113.5" cy="399.3" r="3.75" fill="none" stroke="#E8419A" stroke-width="1.25"/>
<line x1="31.0" y1="322.2" x2="159.6" y2="321.6" stroke="#000" stroke-width="1.9"/>
<polyline points="31.00,291.67 33.18,292.62 35.36,293.55 37.54,294.47 39.72,295.36 41.90,296.23 44.08,297.08 46.26,297.91 48.44,298.70 50.62,299.46 52.80,300.18 54.98,300.87 57.16,301.51 59.34,302.10 61.52,302.64 63.69,303.12 65.87,303.54 68.05,303.89 70.23,304.17 72.41,304.38 74.59,304.51 76.77,304.57 78.95,304.54 81.13,304.44 83.31,304.25 85.49,303.99 87.67,303.66 89.85,303.26 92.03,302.80 94.21,302.27 96.39,301.69 98.57,301.06 100.75,300.38 102.93,299.66 105.11,298.90 107.29,298.11 109.47,297.28 111.65,296.43 113.83,295.55 116.01,294.65 118.19,293.72 120.37,292.78 122.55,291.82 124.73,290.84 126.91,289.85 129.08,288.85 131.26,287.84 133.44,286.81 135.62,285.78 137.80,284.73 139.98,283.68 142.16,282.62 144.34,281.55 146.52,280.48 148.70,279.40 150.88,278.31 153.06,277.22 155.24,276.13 157.42,275.03 159.60,273.92" fill="none" stroke="#000" stroke-width="1.5" stroke-dasharray="8.9 3.8" stroke-dashoffset="11.91"/>
<polyline points="31.00,352.73 33.18,351.76 35.36,350.81 37.54,349.87 39.72,348.96 41.90,348.06 44.08,347.19 46.26,346.35 48.44,345.54 50.62,344.76 52.80,344.01 54.98,343.31 57.16,342.65 59.34,342.04 61.52,341.48 63.69,340.98 65.87,340.54 68.05,340.16 70.23,339.86 72.41,339.63 74.59,339.48 76.77,339.41 78.95,339.41 81.13,339.50 83.31,339.66 85.49,339.90 87.67,340.21 89.85,340.59 92.03,341.03 94.21,341.54 96.39,342.10 98.57,342.71 100.75,343.37 102.93,344.07 105.11,344.81 107.29,345.58 109.47,346.39 111.65,347.22 113.83,348.08 116.01,348.96 118.19,349.86 120.37,350.79 122.55,351.73 124.73,352.68 126.91,353.65 129.08,354.63 131.26,355.63 133.44,356.63 135.62,357.65 137.80,358.67 139.98,359.70 142.16,360.74 144.34,361.79 146.52,362.84 148.70,363.90 150.88,364.97 153.06,366.04 155.24,367.11 157.42,368.19 159.60,369.28" fill="none" stroke="#000" stroke-width="1.5" stroke-dasharray="8.9 3.8" stroke-dashoffset="3.04"/>
<text x="54.7" y="383.6" font-size="10.4" fill="#111"><tspan font-style="italic">r</tspan> = 0.01, <tspan font-style="italic">p</tspan> = 0.98</text>
<text x="0" y="0" font-size="12.2" fill="#111" text-anchor="middle" transform="translate(10.8 334.5) rotate(-90)"><tspan font-style="italic">d</tspan>-prime (immediate)</text>
<text x="95.6" y="434.6" font-size="12.2" text-anchor="middle" font-weight="normal" font-style="normal" fill="#111">grid-like coding (arb. units)</text>
<text x="186.0" y="256.6" font-size="20" text-anchor="start" font-weight="bold" font-style="normal" fill="#000" transform="translate(186.00 256.60) scale(1 1.09) translate(-186.00 -256.60)">E</text>
<path d="M219.6 264.4 V405.5 H303.7" fill="none" stroke="#333333" stroke-width="1.15" stroke-linejoin="round"/>
<line x1="216.8" y1="287.3" x2="219.5" y2="287.3" stroke="#333333" stroke-width="1.05"/>
<text x="216.1" y="290.2" font-size="10.4" text-anchor="end" font-weight="normal" font-style="normal" fill="#111">3</text>
<line x1="216.8" y1="312.8" x2="219.5" y2="312.8" stroke="#333333" stroke-width="1.05"/>
<text x="216.1" y="315.7" font-size="10.4" text-anchor="end" font-weight="normal" font-style="normal" fill="#111">2</text>
<line x1="216.8" y1="338.4" x2="219.5" y2="338.4" stroke="#333333" stroke-width="1.05"/>
<text x="216.1" y="341.3" font-size="10.4" text-anchor="end" font-weight="normal" font-style="normal" fill="#111">1</text>
<line x1="216.8" y1="363.9" x2="219.5" y2="363.9" stroke="#333333" stroke-width="1.05"/>
<text x="216.1" y="366.8" font-size="10.4" text-anchor="end" font-weight="normal" font-style="normal" fill="#111">0</text>
<line x1="216.8" y1="389.4" x2="219.5" y2="389.4" stroke="#333333" stroke-width="1.05"/>
<text x="215.6" y="392.3" font-size="10.4" text-anchor="end" font-weight="normal" font-style="normal" fill="#111">−1</text>
<line x1="257.6" y1="405.5" x2="257.6" y2="408.2" stroke="#333333" stroke-width="1.05"/>
<text x="257.6" y="420.8" font-size="12" text-anchor="middle" font-weight="normal" font-style="normal" fill="#111">hits</text>
<circle cx="241.1" cy="271.1" r="3.75" fill="none" stroke="#E8419A" stroke-width="1.25"/>
<circle cx="239.3" cy="276.6" r="3.75" fill="none" stroke="#E8419A" stroke-width="1.25"/>
<circle cx="233.4" cy="276.6" r="3.75" fill="none" stroke="#E8419A" stroke-width="1.25"/>
<circle cx="230.5" cy="307.0" r="3.75" fill="none" stroke="#E8419A" stroke-width="1.25"/>
<circle cx="243.2" cy="309.0" r="3.75" fill="none" stroke="#E8419A" stroke-width="1.25"/>
<circle cx="242.7" cy="309.9" r="3.75" fill="none" stroke="#E8419A" stroke-width="1.25"/>
<circle cx="238.6" cy="316.7" r="3.75" fill="none" stroke="#E8419A" stroke-width="1.25"/>
<circle cx="230.9" cy="336.0" r="3.75" fill="none" stroke="#E8419A" stroke-width="1.25"/>
<circle cx="230.9" cy="343.9" r="3.75" fill="none" stroke="#E8419A" stroke-width="1.25"/>
<circle cx="229.0" cy="347.6" r="3.75" fill="none" stroke="#E8419A" stroke-width="1.25"/>
<circle cx="241.3" cy="342.5" r="3.75" fill="none" stroke="#E8419A" stroke-width="1.25"/>
<circle cx="240.9" cy="343.1" r="3.75" fill="none" stroke="#E8419A" stroke-width="1.25"/>
<circle cx="231.7" cy="356.8" r="3.75" fill="none" stroke="#E8419A" stroke-width="1.25"/>
<circle cx="242.3" cy="359.5" r="3.75" fill="none" stroke="#E8419A" stroke-width="1.25"/>
<circle cx="233.8" cy="364.7" r="3.75" fill="none" stroke="#E8419A" stroke-width="1.25"/>
<circle cx="232.0" cy="372.4" r="3.75" fill="none" stroke="#E8419A" stroke-width="1.25"/>
<circle cx="227.9" cy="376.0" r="3.75" fill="none" stroke="#E8419A" stroke-width="1.25"/>
<circle cx="235.4" cy="375.0" r="3.75" fill="none" stroke="#E8419A" stroke-width="1.25"/>
<circle cx="235.6" cy="398.9" r="3.75" fill="none" stroke="#E8419A" stroke-width="1.25"/>
<line x1="257.7" y1="271.0" x2="257.7" y2="309.4" stroke="#000" stroke-width="1.7"/>
<line x1="257.7" y1="361.2" x2="257.7" y2="398.7" stroke="#000" stroke-width="1.7"/>
<rect x="251.6" y="309.4" width="12.2" height="51.8" fill="#F9D1E4" stroke="#000" stroke-width="1.7"/>
<line x1="251.6" y1="343.6" x2="263.8" y2="343.6" stroke="#000" stroke-width="1.7"/>
<path d="M267.20 270.90 L280.30 270.90 C280.38 271.48 280.98 273.02 280.80 274.40 C280.62 275.78 279.90 277.60 279.20 279.20 C278.50 280.80 277.27 282.40 276.60 284.00 C275.93 285.60 275.38 287.20 275.20 288.80 C275.02 290.40 274.97 292.00 275.50 293.60 C276.03 295.20 277.25 296.80 278.40 298.40 C279.55 300.00 281.33 301.60 282.40 303.20 C283.47 304.80 284.35 306.40 284.80 308.00 C285.25 309.60 285.37 311.22 285.10 312.80 C284.83 314.38 283.83 315.92 283.20 317.50 C282.57 319.08 281.43 320.70 281.30 322.30 C281.17 323.90 281.78 325.73 282.40 327.10 C283.02 328.47 283.67 329.22 285.00 330.50 C286.33 331.78 288.57 333.28 290.40 334.80 C292.23 336.32 294.60 338.00 296.00 339.60 C297.40 341.20 298.33 343.07 298.80 344.40 C299.27 345.73 299.13 346.27 298.80 347.60 C298.47 348.93 297.53 350.80 296.80 352.40 C296.07 354.00 295.07 355.60 294.40 357.20 C293.73 358.80 293.33 360.40 292.80 362.00 C292.27 363.60 291.87 365.20 291.20 366.80 C290.53 368.40 289.73 370.02 288.80 371.60 C287.87 373.18 286.93 374.72 285.60 376.30 C284.27 377.88 282.27 379.50 280.80 381.10 C279.33 382.70 277.87 384.30 276.80 385.90 C275.73 387.50 274.98 389.10 274.40 390.70 C273.82 392.30 273.57 394.12 273.30 395.50 C273.03 396.88 272.88 398.42 272.80 399.00 L267.20 399.00 Z" fill="#E8419A" stroke="none"/>
<path d="M257.8 266.3 L257.80 264.45 M257.8 266.3 L259.56 265.73 M257.8 266.3 L258.89 267.80 M257.8 266.3 L256.71 267.80 M257.8 266.3 L256.04 265.73 " stroke="#111" stroke-width="1.0" stroke-linecap="round" fill="none"/>
<text x="0" y="0" font-size="12.2" fill="#111" text-anchor="middle" transform="translate(195.1 335.1) rotate(-90)">grid−like coding (arb. units)</text>
<text x="325.0" y="256.6" font-size="20" text-anchor="start" font-weight="bold" font-style="normal" fill="#000" transform="translate(325.00 256.60) scale(1 1.09) translate(-325.00 -256.60)">F</text>
<path d="M349.5 264.4 V405.5 H490.8" fill="none" stroke="#333333" stroke-width="1.15" stroke-linejoin="round"/>
<line x1="346.8" y1="294.4" x2="349.5" y2="294.4" stroke="#333333" stroke-width="1.05"/>
<text x="346.2" y="297.3" font-size="10.4" text-anchor="end" font-weight="normal" font-style="normal" fill="#111">4</text>
<line x1="346.8" y1="336.6" x2="349.5" y2="336.6" stroke="#333333" stroke-width="1.05"/>
<text x="346.2" y="339.5" font-size="10.4" text-anchor="end" font-weight="normal" font-style="normal" fill="#111">3</text>
<line x1="346.8" y1="378.8" x2="349.5" y2="378.8" stroke="#333333" stroke-width="1.05"/>
<text x="346.2" y="381.7" font-size="10.4" text-anchor="end" font-weight="normal" font-style="normal" fill="#111">2</text>
<line x1="365.8" y1="405.5" x2="365.8" y2="408.2" stroke="#333333" stroke-width="1.05"/>
<text x="365.8" y="419.0" font-size="10.4" text-anchor="middle" font-weight="normal" font-style="normal" fill="#111">−1</text>
<line x1="391.4" y1="405.5" x2="391.4" y2="408.2" stroke="#333333" stroke-width="1.05"/>
<text x="391.4" y="419.0" font-size="10.4" text-anchor="middle" font-weight="normal" font-style="normal" fill="#111">0</text>
<line x1="417.0" y1="405.5" x2="417.0" y2="408.2" stroke="#333333" stroke-width="1.05"/>
<text x="417.0" y="419.0" font-size="10.4" text-anchor="middle" font-weight="normal" font-style="normal" fill="#111">1</text>
<line x1="442.6" y1="405.5" x2="442.6" y2="408.2" stroke="#333333" stroke-width="1.05"/>
<text x="442.6" y="419.0" font-size="10.4" text-anchor="middle" font-weight="normal" font-style="normal" fill="#111">2</text>
<line x1="468.5" y1="405.5" x2="468.5" y2="408.2" stroke="#333333" stroke-width="1.05"/>
<text x="468.5" y="419.0" font-size="10.4" text-anchor="middle" font-weight="normal" font-style="normal" fill="#111">3</text>
<circle cx="356.0" cy="292.4" r="3.75" fill="none" stroke="#E8419A" stroke-width="1.25"/>
<circle cx="419.2" cy="276.0" r="3.75" fill="none" stroke="#E8419A" stroke-width="1.25"/>
<circle cx="395.7" cy="292.4" r="3.75" fill="none" stroke="#E8419A" stroke-width="1.25"/>
<circle cx="407.8" cy="295.4" r="3.75" fill="none" stroke="#E8419A" stroke-width="1.25"/>
<circle cx="398.2" cy="300.6" r="3.75" fill="none" stroke="#E8419A" stroke-width="1.25"/>
<circle cx="379.9" cy="305.0" r="3.75" fill="none" stroke="#E8419A" stroke-width="1.25"/>
<circle cx="382.7" cy="305.0" r="3.75" fill="none" stroke="#E8419A" stroke-width="1.25"/>
<circle cx="390.2" cy="318.2" r="3.75" fill="none" stroke="#E8419A" stroke-width="1.25"/>
<circle cx="412.4" cy="330.3" r="3.75" fill="none" stroke="#E8419A" stroke-width="1.25"/>
<circle cx="412.8" cy="331.9" r="3.75" fill="none" stroke="#E8419A" stroke-width="1.25"/>
<circle cx="378.8" cy="338.1" r="3.75" fill="none" stroke="#E8419A" stroke-width="1.25"/>
<circle cx="411.2" cy="341.7" r="3.75" fill="none" stroke="#E8419A" stroke-width="1.25"/>
<circle cx="446.5" cy="289.2" r="3.75" fill="none" stroke="#E8419A" stroke-width="1.25"/>
<circle cx="445.4" cy="322.8" r="3.75" fill="none" stroke="#E8419A" stroke-width="1.25"/>
<circle cx="479.2" cy="318.9" r="3.75" fill="none" stroke="#E8419A" stroke-width="1.25"/>
<circle cx="484.2" cy="315.9" r="3.75" fill="none" stroke="#E8419A" stroke-width="1.25"/>
<circle cx="448.4" cy="353.6" r="3.75" fill="none" stroke="#E8419A" stroke-width="1.25"/>
<circle cx="410.5" cy="385.4" r="3.75" fill="none" stroke="#E8419A" stroke-width="1.25"/>
<circle cx="438.6" cy="399.3" r="3.75" fill="none" stroke="#E8419A" stroke-width="1.25"/>
<circle cx="478.7" cy="395.3" r="3.75" fill="none" stroke="#E8419A" stroke-width="1.25"/>
<line x1="356.0" y1="303.4" x2="484.2" y2="347.9" stroke="#000" stroke-width="1.9"/>
<polyline points="356.00,270.02 358.17,271.63 360.35,273.23 362.52,274.82 364.69,276.41 366.86,277.98 369.04,279.55 371.21,281.10 373.38,282.64 375.56,284.16 377.73,285.68 379.90,287.17 382.07,288.65 384.25,290.11 386.42,291.55 388.59,292.96 390.77,294.35 392.94,295.71 395.11,297.04 397.28,298.34 399.46,299.61 401.63,300.83 403.80,302.02 405.98,303.16 408.15,304.25 410.32,305.29 412.49,306.28 414.67,307.21 416.84,308.09 419.01,308.90 421.19,309.66 423.36,310.36 425.53,311.00 427.71,311.59 429.88,312.11 432.05,312.59 434.22,313.01 436.40,313.39 438.57,313.72 440.74,314.01 442.92,314.26 445.09,314.47 447.26,314.66 449.43,314.81 451.61,314.93 453.78,315.03 455.95,315.10 458.13,315.15 460.30,315.19 462.47,315.20 464.64,315.20 466.82,315.19 468.99,315.16 471.16,315.11 473.34,315.06 475.51,315.00 477.68,314.92 479.85,314.84 482.03,314.75 484.20,314.65" fill="none" stroke="#000" stroke-width="1.5" stroke-dasharray="8.9 3.8" stroke-dashoffset="4.02"/>
<polyline points="356.00,336.78 358.17,336.68 360.35,336.58 362.52,336.50 364.69,336.43 366.86,336.36 369.04,336.31 371.21,336.26 373.38,336.23 375.56,336.21 377.73,336.21 379.90,336.22 382.07,336.25 384.25,336.30 386.42,336.37 388.59,336.47 390.77,336.59 392.94,336.73 395.11,336.91 397.28,337.12 399.46,337.36 401.63,337.65 403.80,337.97 405.98,338.34 408.15,338.76 410.32,339.22 412.49,339.74 414.67,340.32 416.84,340.95 419.01,341.64 421.19,342.39 423.36,343.20 425.53,344.07 427.71,344.99 429.88,345.97 432.05,347.01 434.22,348.09 436.40,349.22 438.57,350.40 440.74,351.62 442.92,352.88 445.09,354.17 447.26,355.50 449.43,356.86 451.61,358.24 453.78,359.65 455.95,361.09 458.13,362.55 460.30,364.02 462.47,365.51 464.64,367.02 466.82,368.55 468.99,370.09 471.16,371.64 473.34,373.20 475.51,374.77 477.68,376.35 479.85,377.94 482.03,379.54 484.20,381.15" fill="none" stroke="#000" stroke-width="1.5" stroke-dasharray="8.9 3.8" stroke-dashoffset="4.09"/>
<text x="364.7" y="374.7" font-size="10.4" fill="#111"><tspan font-style="italic">r</tspan> = -0.36, <tspan font-style="italic">p</tspan> = 0.12</text>
<text x="0" y="0" font-size="12.2" fill="#111" text-anchor="middle" transform="translate(333.0 334.9) rotate(-90)"><tspan font-style="italic">d</tspan>-prime (immediate)</text>
<path d="M543.5 264.6 V405.5 H685.5" fill="none" stroke="#333333" stroke-width="1.15" stroke-linejoin="round"/>
<line x1="540.7" y1="290.3" x2="543.4" y2="290.3" stroke="#333333" stroke-width="1.05"/>
<text x="540.3" y="293.2" font-size="10.4" text-anchor="end" font-weight="normal" font-style="normal" fill="#111">1<tspan dx="-0.3">.</tspan><tspan dx="-0.3">0</tspan></text>
<line x1="540.7" y1="323.0" x2="543.4" y2="323.0" stroke="#333333" stroke-width="1.05"/>
<text x="540.3" y="325.9" font-size="10.4" text-anchor="end" font-weight="normal" font-style="normal" fill="#111">0<tspan dx="-0.3">.</tspan><tspan dx="-0.3">9</tspan></text>
<line x1="540.7" y1="355.8" x2="543.4" y2="355.8" stroke="#333333" stroke-width="1.05"/>
<text x="540.3" y="358.7" font-size="10.4" text-anchor="end" font-weight="normal" font-style="normal" fill="#111">0<tspan dx="-0.3">.</tspan><tspan dx="-0.3">8</tspan></text>
<line x1="540.7" y1="388.5" x2="543.4" y2="388.5" stroke="#333333" stroke-width="1.05"/>
<text x="540.3" y="391.4" font-size="10.4" text-anchor="end" font-weight="normal" font-style="normal" fill="#111">0<tspan dx="-0.3">.</tspan><tspan dx="-0.3">7</tspan></text>
<line x1="559.9" y1="405.5" x2="559.9" y2="408.2" stroke="#333333" stroke-width="1.05"/>
<text x="559.9" y="419.2" font-size="10.4" text-anchor="middle" font-weight="normal" font-style="normal" fill="#111">−1</text>
<line x1="585.6" y1="405.5" x2="585.6" y2="408.2" stroke="#333333" stroke-width="1.05"/>
<text x="585.6" y="419.2" font-size="10.4" text-anchor="middle" font-weight="normal" font-style="normal" fill="#111">0</text>
<line x1="611.3" y1="405.5" x2="611.3" y2="408.2" stroke="#333333" stroke-width="1.05"/>
<text x="611.3" y="419.2" font-size="10.4" text-anchor="middle" font-weight="normal" font-style="normal" fill="#111">1</text>
<line x1="637.0" y1="405.5" x2="637.0" y2="408.2" stroke="#333333" stroke-width="1.05"/>
<text x="637.0" y="419.2" font-size="10.4" text-anchor="middle" font-weight="normal" font-style="normal" fill="#111">2</text>
<line x1="662.5" y1="405.5" x2="662.5" y2="408.2" stroke="#333333" stroke-width="1.05"/>
<text x="662.5" y="419.2" font-size="10.4" text-anchor="middle" font-weight="normal" font-style="normal" fill="#111">3</text>
<circle cx="550.0" cy="300.2" r="3.75" fill="none" stroke="#E8419A" stroke-width="1.25"/>
<circle cx="576.6" cy="306.8" r="3.75" fill="none" stroke="#E8419A" stroke-width="1.25"/>
<circle cx="584.2" cy="306.6" r="3.75" fill="none" stroke="#E8419A" stroke-width="1.25"/>
<circle cx="590.0" cy="300.5" r="3.75" fill="none" stroke="#E8419A" stroke-width="1.25"/>
<circle cx="592.2" cy="303.8" r="3.75" fill="none" stroke="#E8419A" stroke-width="1.25"/>
<circle cx="601.5" cy="303.8" r="3.75" fill="none" stroke="#E8419A" stroke-width="1.25"/>
<circle cx="605.3" cy="307.0" r="3.75" fill="none" stroke="#E8419A" stroke-width="1.25"/>
<circle cx="606.8" cy="297.2" r="3.75" fill="none" stroke="#E8419A" stroke-width="1.25"/>
<circle cx="612.8" cy="290.2" r="3.75" fill="none" stroke="#E8419A" stroke-width="1.25"/>
<circle cx="640.4" cy="290.2" r="3.75" fill="none" stroke="#E8419A" stroke-width="1.25"/>
<circle cx="573.7" cy="320.9" r="3.75" fill="none" stroke="#E8419A" stroke-width="1.25"/>
<circle cx="573.9" cy="321.3" r="3.75" fill="none" stroke="#E8419A" stroke-width="1.25"/>
<circle cx="606.8" cy="324.2" r="3.75" fill="none" stroke="#E8419A" stroke-width="1.25"/>
<circle cx="639.6" cy="331.1" r="3.75" fill="none" stroke="#E8419A" stroke-width="1.25"/>
<circle cx="672.6" cy="324.2" r="3.75" fill="none" stroke="#E8419A" stroke-width="1.25"/>
<circle cx="678.0" cy="307.1" r="3.75" fill="none" stroke="#E8419A" stroke-width="1.25"/>
<circle cx="604.4" cy="341.2" r="3.75" fill="none" stroke="#E8419A" stroke-width="1.25"/>
<circle cx="642.4" cy="354.4" r="3.75" fill="none" stroke="#E8419A" stroke-width="1.25"/>
<circle cx="632.4" cy="392.3" r="3.75" fill="none" stroke="#E8419A" stroke-width="1.25"/>
<circle cx="672.4" cy="399.2" r="3.75" fill="none" stroke="#E8419A" stroke-width="1.25"/>
<line x1="551.0" y1="297.9" x2="678.8" y2="344.3" stroke="#000" stroke-width="1.9"/>
<polyline points="551.00,271.33 553.17,272.77 555.33,274.21 557.50,275.63 559.66,277.05 561.83,278.45 564.00,279.85 566.16,281.23 568.33,282.60 570.49,283.95 572.66,285.29 574.83,286.62 576.99,287.92 579.16,289.21 581.33,290.48 583.49,291.72 585.66,292.94 587.82,294.13 589.99,295.30 592.16,296.43 594.32,297.54 596.49,298.61 598.65,299.64 600.82,300.64 602.99,301.60 605.15,302.52 607.32,303.39 609.48,304.23 611.65,305.02 613.82,305.77 615.98,306.48 618.15,307.15 620.32,307.77 622.48,308.36 624.65,308.91 626.81,309.42 628.98,309.90 631.15,310.34 633.31,310.76 635.48,311.15 637.64,311.51 639.81,311.84 641.98,312.16 644.14,312.45 646.31,312.72 648.47,312.98 650.64,313.21 652.81,313.43 654.97,313.64 657.14,313.84 659.31,314.02 661.47,314.19 663.64,314.35 665.80,314.50 667.97,314.64 670.14,314.78 672.30,314.90 674.47,315.02 676.63,315.13 678.80,315.24" fill="none" stroke="#000" stroke-width="1.5" stroke-dasharray="8.9 3.8" stroke-dashoffset="5.55"/>
<polyline points="551.00,324.47 553.17,324.60 555.33,324.74 557.50,324.89 559.66,325.04 561.83,325.21 564.00,325.39 566.16,325.58 568.33,325.79 570.49,326.00 572.66,326.24 574.83,326.48 576.99,326.75 579.16,327.04 581.33,327.34 583.49,327.67 585.66,328.03 587.82,328.41 589.99,328.81 592.16,329.25 594.32,329.72 596.49,330.22 598.65,330.76 600.82,331.34 602.99,331.95 605.15,332.61 607.32,333.30 609.48,334.04 611.65,334.82 613.82,335.64 615.98,336.51 618.15,337.41 620.32,338.36 622.48,339.35 624.65,340.37 626.81,341.43 628.98,342.53 631.15,343.65 633.31,344.81 635.48,345.99 637.64,347.21 639.81,348.44 641.98,349.70 644.14,350.98 646.31,352.29 648.47,353.60 650.64,354.94 652.81,356.29 654.97,357.66 657.14,359.04 659.31,360.43 661.47,361.83 663.64,363.24 665.80,364.66 667.97,366.09 670.14,367.53 672.30,368.98 674.47,370.43 676.63,371.89 678.80,373.36" fill="none" stroke="#000" stroke-width="1.5" stroke-dasharray="8.9 3.8" stroke-dashoffset="5.16"/>
<text x="556.2" y="374.5" font-size="10.4" fill="#111"><tspan font-style="italic">r</tspan> = -0.44, <tspan font-style="italic">p</tspan> = 0.05</text>
<text x="0" y="0" font-size="12.2" fill="#111" text-anchor="middle" transform="translate(518.8 335.0) rotate(-90)">hit rate</text>
<text x="512.0" y="434.8" font-size="12.2" text-anchor="middle" font-weight="normal" font-style="normal" fill="#111">grid−like coding during hits (arb. units)</text>
</svg>
</body></html>
